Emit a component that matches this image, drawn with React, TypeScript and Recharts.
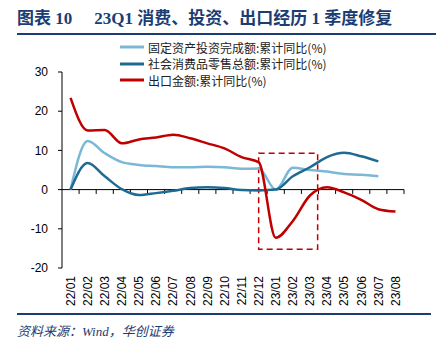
import React from "react";
import { LineChart, Line, XAxis, YAxis, ReferenceLine, ReferenceArea } from "recharts";

const months = [
  "22/01", "22/02", "22/03", "22/04", "22/05", "22/06", "22/07", "22/08", "22/09", "22/10",
  "22/11", "22/12", "23/01", "23/02", "23/03", "23/04", "23/05", "23/06", "23/07", "23/08",
];
const faiValues = [0, 12.4, 9.3, 7.0, 6.3, 6.0, 5.7, 5.7, 5.8, 5.7, 5.3, 5.4, 0, 5.6, 5.0, 4.6, 4.0, 3.8, 3.4, null];
const retailValues = [0, 6.8, 3.4, 0.1, -1.4, -0.9, -0.3, 0.4, 0.6, 0.4, -0.1, -0.2, 0, 3.4, 5.7, 8.3, 9.4, 8.5, 7.2, null];
const exportValues = [23.4, 15.1, 15.2, 11.8, 12.8, 13.3, 14.0, 13.1, 11.8, 10.5, 8.3, 7.0, -12.3, -8.0, -1.5, 0.6, -0.7, -2.6, -5.0, -5.6];
const yTicks = [-20, -10, 0, 10, 20, 30];

// highlighted window: 22/12 .. 23/03
const boxX = [11, 14.45];
const boxY = [-15.2, 9.3];

const series = [
  { key: "fai", name: "固定资产投资完成额:累计同比(%)", color: "#7AB8D6" },
  { key: "retail", name: "社会消费品零售总额:累计同比(%)", color: "#1F6A94" },
  { key: "exp", name: "出口金额:累计同比(%)", color: "#C00000" },
];

const data = months.map((m, i) => ({
  idx: i,
  month: m,
  fai: faiValues[i],
  retail: retailValues[i],
  exp: exportValues[i],
}));

const CJK = "'Noto Sans CJK SC', sans-serif";
const NAVY = "#1B3D73";

const MonthTick = (props: any) => {
  const { x, y, payload } = props;
  return (
    <text
      x={x}
      y={y}
      dy="0.36em"
      textAnchor="end"
      transform={`rotate(-90, ${x}, ${y})`}
      fontSize={12}
      fontFamily="'Liberation Sans', Arial, sans-serif"
      fill="#000"
    >
      {months[payload.value]}
    </text>
  );
};

export default function App() {
  return (
    <div
      style={{
        position: "absolute",
        left: 0,
        top: 0,
        width: 436,
        height: 343,
        background: "#fff",
        overflow: "hidden",
      }}
    >
      <div
        style={{
          position: "absolute",
          left: 17,
          top: 8,
          width: 419,
          height: 25,
          borderBottom: `2px solid ${NAVY}`,
          color: NAVY,
          fontFamily: `'Liberation Serif', ${CJK}`,
          fontWeight: 700,
          fontSize: 17,
          lineHeight: "22px",
          whiteSpace: "nowrap",
        }}
      >
        <span>图表 10</span>
        <span style={{ marginLeft: 22 }}>23Q1 消费、投资、出口经历 1 季度修复</span>
      </div>

      <div style={{ position: "absolute", left: 120, top: 39, fontFamily: CJK, fontSize: 12 }}>
        {series.map((s) => (
          <div key={s.key} style={{ display: "flex", alignItems: "center", height: 16.5 }}>
            <svg width={24} height={6} style={{ marginRight: 4 }}>
              <line x1={0} y1={3} x2={24} y2={3} stroke={s.color} strokeWidth={3} />
            </svg>
            <span style={{ color: "#222", whiteSpace: "nowrap" }}>{s.name}</span>
          </div>
        ))}
      </div>

      <div style={{ position: "absolute", left: 0, top: 0 }}>
        <LineChart width={436} height={343} data={data} margin={{ top: 72, right: 32, bottom: 30, left: 22 }}>
          <XAxis
            dataKey="idx"
            type="number"
            domain={[-0.5, months.length - 0.5]}
            ticks={months.map((_, i) => i)}
            interval={0}
            axisLine={false}
            tickLine={false}
            height={45}
            tick={<MonthTick />}
          />
          <YAxis
            domain={[yTicks[0], yTicks[yTicks.length - 1]]}
            ticks={yTicks}
            interval={0}
            width={40}
            axisLine={{ stroke: "#000" }}
            tickLine={{ stroke: "#000" }}
            tickSize={4}
            tickMargin={10}
            tick={{ fill: "#000", fontSize: 12, fontFamily: "'Liberation Sans', Arial, sans-serif" }}
          />
          <ReferenceLine y={0} stroke="#000" strokeWidth={1} />
          {months.map((_, i) => (
            <ReferenceLine
              key={`t${i}`}
              segment={[
                { x: i + 0.5, y: 0 },
                { x: i + 0.5, y: -1.1 },
              ]}
              stroke="#000"
              strokeWidth={1}
            />
          ))}
          {series.map((s) => (
            <Line
              key={s.key}
              type="monotone"
              dataKey={s.key}
              name={s.name}
              stroke={s.color}
              strokeWidth={2.5}
              dot={false}
              connectNulls={false}
              isAnimationActive={false}
            />
          ))}
          <ReferenceArea
            x1={boxX[0]}
            x2={boxX[1]}
            y1={boxY[0]}
            y2={boxY[1]}
            fill="none"
            fillOpacity={0}
            stroke="#C00000"
            strokeWidth={1.5}
            strokeDasharray="6 4"
          />
        </LineChart>
      </div>

      <div
        style={{
          position: "absolute",
          left: 17,
          top: 313,
          width: 414,
          borderTop: `2px solid ${NAVY}`,
        }}
      />
      <div
        style={{
          position: "absolute",
          left: 17,
          top: 321,
          color: NAVY,
          fontFamily: `'Liberation Serif', ${CJK}`,
          fontStyle: "italic",
          fontSize: 13,
          whiteSpace: "nowrap",
        }}
      >
        资料来源：Wind，华创证券
      </div>
    </div>
  );
}
